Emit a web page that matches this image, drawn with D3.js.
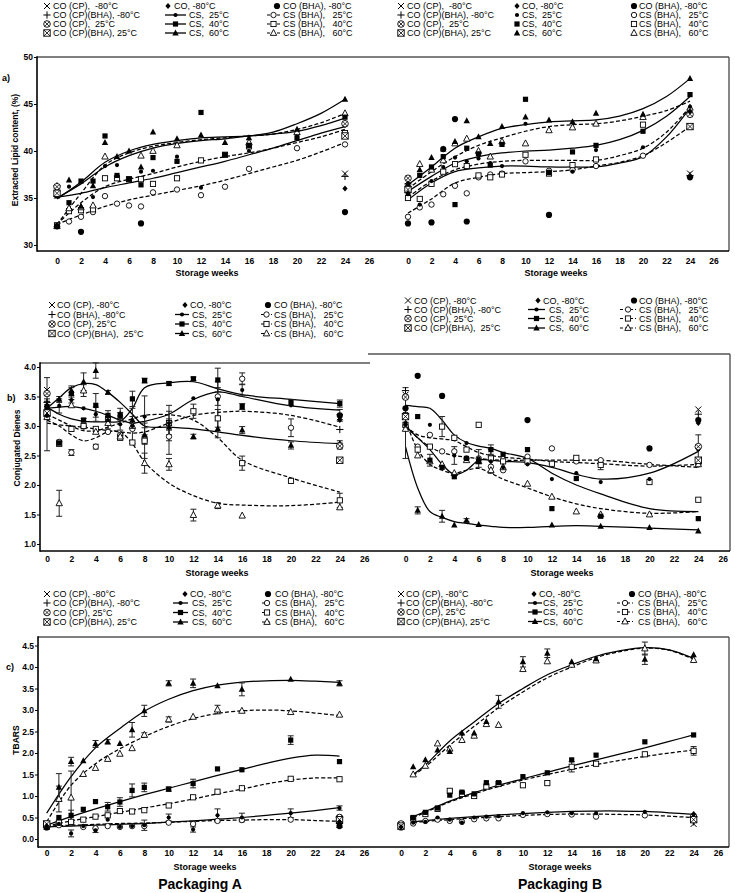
<!DOCTYPE html>
<html><head><meta charset="utf-8">
<script src="https://cdn.jsdelivr.net/npm/d3@7"></script>
<style>body{margin:0;background:#fff}svg{display:block}</style>
</head><body>
<svg id="c" width="735" height="893"></svg>
<script>
// ---------------- DATA ----------------
const weeks = [0,1,2,3,4,5,6,7,8,10,12,14,16,20,24];
const fitWeeks = [0,2,4,6,8,10,12,14,16,18,20,22,24];
const fitWeeksCB = [1,2,4,6,8,10,12,14,16,18,20,22,24];
const coWeeks = [0,24];
const xTicks = [0,2,4,6,8,10,12,14,16,18,20,22,24,26];
const yTicksLipid = [30,35,40,45,50];
const yTicksCD = [1.0,1.5,2.0,2.5,3.0,3.5,4.0];
const yTicksTB = [0,0.5,1.0,1.5,2.0,2.5,3.0,3.5,4.0,4.5];
const panelLetters = ["a)","b)","c)"];
const yTitles = ["Extracted Lipid content, (%)","Conjugated Dienes","TBARS"];
const xTitle = "Storage weeks";
const packTitles = ["Packaging A","Packaging B"];
const legCol1 = ["CO (CP),  -80°C","CO (CP)(BHA), -80°C","CO (CP),  25°C","CO (CP)(BHA), 25°C"];
const legCol1bA = ["CO (CP), -80°C","CO (BHA), -80°C","CO (CP), 25°C","CO (CP)(BHA),  25°C"];
const legCol1bB = ["CO (CP), -80°C","CO (CP)(BHA), -80°C","CO (CP), 25°C","CO (CP)(BHA),  25°C"];
const legCol1c = ["CO (CP), -80°C","CO (CP)(BHA), -80°C","CO (CP), 25°C","CO (CP)(BHA), 25°C"];
const legCol2 = ["CO, -80°C","CS,  25°C","CS,  40°C","CS,  60°C"];
const legCol3 = ["CO (BHA), -80°C","CS (BHA),   25°C","CS (BHA),   40°C","CS (BHA),   60°C"];

// CO controls at weeks 0 and 24: order ×, +, ⊗, ⊠, ◆
// ---- a) Lipid, Packaging A
const aA_cs25  = [35.2,36.2,null,35.1,38.4,38.5,37.0,37.8,37.9,39.4,36.1,null,40.0,41.5,42.7];
const aA_cs40  = [35.4,34.5,36.8,36.8,41.6,37.4,37.0,36.4,39.3,38.9,44.1,39.6,40.6,41.4,43.6];
const aA_cs60  = [35.2,36.9,34.1,36.3,40.9,39.4,40.0,38.3,42.0,41.3,41.7,40.9,41.4,42.3,45.5];
const aA_bha25 = [32.0,32.5,33.0,33.5,35.2,34.4,34.2,34.1,35.6,35.9,35.3,36.2,38.1,40.3,40.7];
const aA_bha40 = [32.1,33.6,33.7,33.8,37.1,37.1,37.0,37.0,36.5,37.1,39.0,39.6,40.5,null,41.9];
const aA_bha60 = [32.0,33.9,34.0,34.2,39.4,null,null,39.5,40.0,40.6,null,null,40.9,42.0,44.0];
const aA_coBHA = [32.0,null,31.4,null,null,null,null,32.3,null,null,null,null,null,null,33.5];
const aA_co0 = [36.0,36.3,36.2,35.5,32.0];
const aA_co24 = [37.6,37.3,42.9,41.6,36.0];
const aA_f_cs25  = [35.1,35.5,36.1,36.6,37.1,37.7,38.3,38.9,39.6,40.3,41.1,41.9,42.6];
const aA_f_cs40  = [35.0,36.5,38.3,39.5,40.3,40.8,41.1,41.3,41.6,41.8,42.1,42.7,43.5];
const aA_f_cs60  = [34.9,36.7,38.8,40.0,40.7,41.1,41.4,41.5,41.6,42.0,42.9,44.0,45.5];
const aA_f_bha25 = [32.2,33.2,34.1,34.8,35.3,35.8,36.3,36.9,37.6,38.3,39.0,39.9,40.9];
const aA_f_bha40 = [32.2,34.5,36.2,37.0,37.6,38.3,38.9,39.4,39.8,40.3,40.9,41.5,42.3];
const aA_f_bha60 = [32.2,35.5,38.5,39.8,40.5,40.9,41.2,41.4,41.6,41.8,42.3,43.0,44.0];
// ---- a) Lipid, Packaging B
const aB_cs25  = [35.4,34.3,36.8,38.3,39.3,38.9,39.2,38.7,38.4,42.9,37.8,37.8,40.1,40.4,44.7];
const aB_cs40  = [35.8,37.4,38.3,39.4,34.3,40.3,39.7,38.5,40.7,45.5,37.7,39.9,40.6,42.1,46.0];
const aB_cs60  = [36.5,38.0,39.3,40.2,41.0,43.2,41.5,40.8,42.6,43.6,43.3,43.1,44.0,43.9,47.7];
const aB_bha25 = [33.0,34.0,34.3,35.4,36.3,35.5,37.2,37.5,37.6,38.9,37.9,38.0,38.4,39.5,42.6];
const aB_bha40 = [35.0,34.9,36.5,37.8,38.6,38.4,37.4,37.2,37.5,39.6,37.6,38.5,39.1,42.8,42.6];
const aB_bha60 = [36.0,38.6,38.0,39.0,40.8,41.3,40.0,39.4,41.0,40.8,42.2,42.5,42.9,43.6,44.6];
const aB_coBHA = [32.3,null,32.4,40.2,43.4,32.5,null,null,null,null,33.2,null,null,null,37.2];
const aB_co0 = [36.8,36.5,37.1,35.9,35.5];
const aB_co24 = [37.6,37.4,43.9,42.6,44.2];
const aB_f_cs25  = [34.8,36.6,37.8,38.2,38.4,38.4,38.3,38.3,38.3,38.7,39.4,41.5,44.6];
const aB_f_cs40  = [35.7,37.3,38.7,39.4,39.8,40.0,40.1,40.3,40.6,41.2,42.2,43.7,45.8];
const aB_f_cs60  = [36.4,38.3,40.3,41.5,42.4,42.8,43.1,43.2,43.3,43.7,44.5,45.8,47.7];
const aB_f_bha25 = [33.4,34.9,36.6,37.2,37.6,37.7,37.8,38.0,38.4,38.8,39.5,40.9,42.6];
const aB_f_bha40 = [35.1,36.8,38.0,38.6,38.9,39.0,39.0,39.0,39.0,39.5,40.3,42.0,44.7];
const aB_f_bha60 = [36.0,37.8,39.4,40.6,41.4,42.1,42.6,42.8,42.9,43.2,43.7,44.3,45.3];
// ---- b) Conjugated dienes, Packaging A
const bA_cs25  = [3.30,3.34,3.44,3.30,3.20,3.10,3.03,3.00,3.16,3.05,3.47,3.45,3.61,3.35,3.18];
const bA_cs40  = [3.33,2.71,3.55,3.10,3.35,3.18,3.18,3.46,3.77,3.72,3.80,3.78,3.33,3.40,3.38];
const bA_cs60  = [3.36,3.45,3.60,3.75,3.94,3.57,3.20,3.10,2.85,2.98,2.82,2.95,2.93,2.67,2.70];
const bA_bha25 = [3.22,2.73,2.55,2.99,2.65,2.90,2.85,2.95,2.77,2.82,null,3.50,3.80,2.97,2.66];
const bA_bha40 = [3.20,2.70,2.95,3.00,2.95,3.12,2.80,2.72,2.75,3.05,3.25,3.13,2.37,2.07,1.74];
const bA_bha60 = [3.15,1.69,3.35,3.60,2.90,3.05,2.82,3.00,2.37,2.35,1.49,1.65,1.48,null,1.62];
const bA_coBHA = [3.25,null,null,null,null,null,null,null,null,null,null,null,null,null,3.18];
const bA_co0 = [3.61,3.40,3.55,3.22,3.18];
const bA_co24 = [3.15,2.94,2.66,2.42,3.10];
const bA_l_cs25  = [3.30,3.32,3.33,3.30,3.25,3.18,3.10,3.05,3.08,3.20,3.45,3.58,3.50,3.34,3.27];
const bA_l_cs40  = [3.32,3.20,3.12,3.08,3.07,3.07,3.08,3.30,3.65,3.73,3.75,3.63,3.53,3.45,3.38];
const bA_l_cs60  = [3.30,3.48,3.65,3.72,3.70,3.57,3.40,3.20,3.00,2.98,2.95,2.90,2.84,2.75,2.70];
const bA_l_bha25 = [3.05,3.02,3.00,2.98,2.95,2.92,2.90,2.88,2.90,3.05,3.18,3.23,3.25,3.18,2.98];
const bA_l_bha40 = [3.20,3.10,3.00,2.92,2.92,2.98,3.05,3.12,3.18,3.19,3.10,2.80,2.42,2.12,1.88];
const bA_l_bha60 = [3.10,3.00,2.85,2.75,2.80,2.90,2.90,2.70,2.39,2.03,1.82,1.69,1.66,1.65,1.71];
const bA_e_cs25  = [0.12,0.12,0.05,null,0.12,null,0.10,0.30,0.35,0.20,null,0.30,0.10,null,0.10];
const bA_e_cs40  = [0.08,0.05,0.10,0.03,0.20,0.08,0.05,0.13,0.04,0.03,0.03,0.20,0.05,0.05,0.06];
const bA_e_cs60  = [0.10,0.05,0.08,0.15,0.13,0.03,0.10,0.06,0.12,0.05,0.04,0.15,0.06,0.06,0.05];
const bA_e_bha25 = [null,null,0.05,null,0.04,null,null,null,0.08,0.30,null,0.15,0.10,0.15,0.05];
const bA_e_bha40 = [0.62,null,null,null,null,null,null,null,0.30,0.30,0.12,0.15,0.12,null,0.12];
const bA_e_bha60 = [null,0.22,null,0.10,null,0.10,null,null,0.17,0.10,0.10,0.05,null,null,null];
// ---- b) Conjugated dienes, Packaging B
const bB_cs25  = [3.05,null,3.02,null,2.50,2.71,2.45,2.40,2.30,2.35,2.10,2.20,2.05,2.10,2.60];
const bB_cs40  = [3.19,3.16,2.42,2.30,2.14,2.45,2.40,2.60,2.52,2.60,1.60,2.11,1.47,null,1.43];
const bB_cs60  = [null,1.57,null,1.47,1.32,1.40,1.33,null,null,null,1.32,null,1.30,1.28,1.22];
const bB_bha25 = [3.00,2.65,2.85,2.57,2.57,2.45,2.45,2.31,2.25,2.48,2.62,2.40,2.42,2.34,2.35];
const bB_bha40 = [3.02,2.60,2.65,2.99,2.80,2.60,3.02,2.45,2.40,2.40,2.36,2.46,2.34,2.05,1.75];
const bB_bha60 = [2.95,2.50,2.40,2.35,2.20,2.42,2.40,2.25,2.30,2.02,1.80,1.55,1.50,1.50,2.35];
const bB_coBHA = [3.30,3.85,null,3.51,null,null,null,null,null,3.10,null,null,null,2.62,3.10];
const bB_co0 = [3.53,3.60,3.49,3.16,3.02];
const bB_co24 = [3.28,3.20,2.65,2.42,3.05];
const bB_l_cs25  = [3.00,2.80,2.60,2.35,2.18,2.25,2.42,2.42,2.40,2.38,2.30,2.18,2.10,2.20,2.57];
const bB_l_cs40  = [3.35,3.33,3.30,3.10,2.85,2.72,2.66,2.62,2.55,2.45,2.20,2.00,1.85,1.60,1.55];
const bB_l_cs60  = [2.65,1.95,1.55,1.45,1.38,1.35,1.32,1.30,1.28,1.28,1.30,1.31,1.30,1.27,1.24];
const bB_l_bha25 = [3.00,2.80,2.65,2.55,2.50,2.47,2.45,2.43,2.42,2.42,2.42,2.42,2.42,2.35,2.30];
const bB_l_bha40 = [3.00,2.85,2.80,2.78,2.75,2.65,2.55,2.50,2.47,2.44,2.40,2.38,2.36,2.32,2.35];
const bB_l_bha60 = [3.10,2.60,2.35,2.25,2.20,2.25,2.28,2.20,2.10,1.95,1.80,1.68,1.60,1.52,1.55];
const bB_e_cs25  = [0.60,null,null,null,0.15,null,0.15,0.20,null,null,null,null,null,null,0.25];
const bB_e_cs40  = [null,null,0.10,null,null,null,null,0.08,null,null,null,null,null,null,null];
const bB_e_cs60  = [null,0.06,null,0.10,null,0.03,null,null,null,null,null,null,null,null,null];
const bB_e_bha40 = [null,null,null,0.17,null,null,null,null,null,null,null,null,0.08,null,null];
// ---- c) TBARS, Packaging A
const cA_cs25  = [0.30,0.35,0.13,0.30,0.20,0.45,0.28,0.30,0.32,0.50,0.22,0.55,0.50,0.60,0.72];
const cA_cs40  = [0.35,0.50,0.55,0.69,0.87,0.75,0.86,1.13,1.20,1.16,1.29,1.63,1.61,2.30,1.80];
const cA_cs60  = [null,1.20,1.80,1.82,2.21,2.26,2.22,2.54,2.98,3.62,3.62,3.56,3.48,3.71,3.62];
const cA_bha25 = [0.28,0.32,0.38,0.28,0.25,0.30,0.28,0.30,0.30,0.38,0.35,0.42,0.44,0.45,0.42];
const cA_bha40 = [0.30,0.38,0.40,0.45,0.52,0.55,0.65,0.64,0.67,0.78,0.97,1.10,1.18,1.40,1.39];
const cA_bha60 = [null,0.93,0.96,1.51,1.65,1.86,1.98,2.11,2.42,2.78,2.84,3.01,2.98,2.95,2.89];
const cA_coBHA = [0.27,null,null,null,null,null,null,null,null,null,null,null,null,null,0.30];
const cA_co0 = [0.28,0.30,0.33,0.35,0.30];
const cA_co24 = [0.33,0.36,0.50,0.45,0.40];
const cA_f_cs25  = [0.28,0.30,0.32,0.34,0.36,0.39,0.42,0.46,0.50,0.55,0.60,0.66,0.73];
const cA_f_cs40  = [0.32,0.52,0.70,0.87,1.03,1.18,1.33,1.48,1.62,1.76,1.88,1.95,1.93];
const cA_f_cs60  = [0.60,1.45,2.12,2.57,2.97,3.25,3.45,3.58,3.65,3.68,3.69,3.67,3.64];
const cA_f_bha25 = [0.30,0.32,0.34,0.36,0.37,0.39,0.41,0.43,0.44,0.45,0.45,0.43,0.41];
const cA_f_bha40 = [0.30,0.42,0.52,0.62,0.72,0.82,0.93,1.05,1.16,1.28,1.37,1.42,1.42];
const cA_f_bha60 = [0.40,1.25,1.75,2.10,2.38,2.62,2.80,2.92,2.98,3.00,2.98,2.93,2.87];
const cA_e_cs25  = [null,null,0.08,null,0.05,null,null,null,0.12,0.08,0.06,0.15,0.10,0.10,0.05];
const cA_e_cs40  = [null,null,0.12,null,null,0.10,0.10,0.15,0.10,0.05,0.10,null,null,0.10,null];
const cA_e_cs60  = [null,0.32,0.10,null,0.08,0.05,null,0.17,0.13,0.06,0.10,null,0.15,null,0.06];
const cA_e_bha60 = [null,0.30,0.62,null,null,null,null,null,0.05,0.06,null,0.10,null,null,null];
// ---- c) TBARS, Packaging B
const cB_cs25  = [null,0.38,0.40,0.50,0.45,0.38,0.50,0.52,0.53,0.60,0.62,0.60,0.60,0.63,0.55];
const cB_cs40  = [null,0.50,0.62,0.72,1.02,1.09,1.05,1.31,1.31,1.45,1.54,1.84,1.95,2.26,2.42];
const cB_cs60  = [null,1.68,1.84,2.07,2.03,2.46,2.46,2.73,3.19,4.12,4.32,4.12,4.19,4.18,4.28];
const cB_bha25 = [null,0.36,0.42,0.45,0.42,0.40,0.46,0.48,0.48,0.56,0.58,0.57,0.52,0.55,0.48];
const cB_bha40 = [null,0.48,0.58,0.70,1.12,1.05,1.00,1.22,1.28,1.25,1.30,1.68,1.75,1.97,2.05];
const cB_bha60 = [null,1.50,1.70,2.22,2.10,2.30,2.40,2.67,2.65,3.95,4.13,4.05,4.15,4.43,4.16];
const cB_coBHA = [0.27,null,null,null,null,null,null,null,null,null,null,null,null,null,0.50];
const cB_co0 = [0.30,0.33,0.35,0.30,0.28];
const cB_co24 = [0.35,0.40,0.52,0.45,0.58];
const cB_f_cs25  = [0.40,0.43,0.48,0.52,0.56,0.59,0.62,0.64,0.65,0.65,0.64,0.61,0.57];
const cB_f_cs40  = [0.52,0.64,0.88,1.08,1.25,1.40,1.55,1.70,1.84,1.98,2.12,2.27,2.42];
const cB_f_cs60  = [1.50,1.72,2.28,2.72,3.15,3.50,3.82,4.05,4.25,4.38,4.45,4.40,4.20];
const cB_f_bha25 = [0.38,0.41,0.45,0.49,0.52,0.55,0.57,0.58,0.58,0.57,0.56,0.53,0.50];
const cB_f_bha40 = [0.50,0.62,0.86,1.05,1.22,1.37,1.50,1.62,1.73,1.83,1.92,2.00,2.07];
const cB_f_bha60 = [1.48,1.68,2.18,2.62,3.05,3.42,3.75,4.00,4.22,4.36,4.44,4.39,4.18];
const cB_e_cs60  = [null,null,null,null,null,null,null,null,0.15,0.12,0.10,null,null,0.12,null];
const cB_e_bha60 = [null,null,null,null,null,null,null,null,null,null,null,null,null,0.15,null];
const cB_e_bha40 = [null,null,null,null,null,null,null,null,null,null,null,0.12,null,null,0.10];

// ---------------- DRAWING ----------------
const FONT = "'Liberation Sans', Arial, Helvetica, sans-serif";
const svg = d3.select('#c');

function sym(g, t, x, y) {
  const st = '#000';
  if (t === 'x') {
    g.append('path').attr('d', `M${x-3},${y-3}L${x+3},${y+3}M${x-3},${y+3}L${x+3},${y-3}`).attr('stroke', st).attr('stroke-width', 1);
  } else if (t === 'plus') {
    g.append('path').attr('d', `M${x-3.6},${y}L${x+3.6},${y}M${x},${y-3.6}L${x},${y+3.6}`).attr('stroke', st).attr('stroke-width', 1);
  } else if (t === 'otimes') {
    g.append('circle').attr('cx', x).attr('cy', y).attr('r', 3.3).attr('fill', '#fff').attr('stroke', st).attr('stroke-width', 0.9);
    g.append('path').attr('d', `M${x-2.3},${y-2.3}L${x+2.3},${y+2.3}M${x-2.3},${y+2.3}L${x+2.3},${y-2.3}`).attr('stroke', st).attr('stroke-width', 0.8);
  } else if (t === 'boxtimes') {
    g.append('rect').attr('x', x-3.2).attr('y', y-3.2).attr('width', 6.4).attr('height', 6.4).attr('fill', '#fff').attr('stroke', st).attr('stroke-width', 0.9);
    g.append('path').attr('d', `M${x-3.2},${y-3.2}L${x+3.2},${y+3.2}M${x-3.2},${y+3.2}L${x+3.2},${y-3.2}`).attr('stroke', st).attr('stroke-width', 0.8);
  } else if (t === 'diamond') {
    g.append('path').attr('d', `M${x},${y-3}L${x+2.6},${y}L${x},${y+3}L${x-2.6},${y}Z`).attr('fill', st);
  } else if (t === 'bigdot') {
    g.append('circle').attr('cx', x).attr('cy', y).attr('r', 3.1).attr('fill', st);
  } else if (t === 'dot') {
    g.append('circle').attr('cx', x).attr('cy', y).attr('r', 2.1).attr('fill', st);
  } else if (t === 'sq') {
    g.append('rect').attr('x', x-2.6).attr('y', y-2.6).attr('width', 5.2).attr('height', 5.2).attr('fill', st);
  } else if (t === 'tri') {
    g.append('path').attr('d', `M${x},${y-3.6}L${x+3.2},${y+2.4}L${x-3.2},${y+2.4}Z`).attr('fill', st);
  } else if (t === 'ocirc') {
    g.append('circle').attr('cx', x).attr('cy', y).attr('r', 2.7).attr('fill', '#fff').attr('stroke', st).attr('stroke-width', 0.9);
  } else if (t === 'osq') {
    g.append('rect').attr('x', x-2.6).attr('y', y-2.6).attr('width', 5.2).attr('height', 5.2).attr('fill', '#fff').attr('stroke', st).attr('stroke-width', 0.9);
  } else if (t === 'otri') {
    g.append('path').attr('d', `M${x},${y-3.6}L${x+3.2},${y+2.4}L${x-3.2},${y+2.4}Z`).attr('fill', '#fff').attr('stroke', st).attr('stroke-width', 0.9);
  }
}

const coSyms = ['x','plus','otimes','boxtimes','diamond'];

function drawData(g, xs, ys, d) {
  // lines
  d.lines.forEach(L => {
    const gen = d3.line().defined(p => p[1] != null).x(p => xs(p[0])).y(p => ys(p[1])).curve(d.curve);
    g.append('path').attr('d', gen(L.wk.map((w, i) => [w, L.v[i]])))
      .attr('fill', 'none').attr('stroke', '#000').attr('stroke-width', 1.25)
      .attr('stroke-dasharray', L.dash ? '4,2.2' : null);
  });
  // error bars
  d.pts.forEach(P => {
    if (!P.e) return;
    weeks.forEach((w, i) => {
      if (P.v[i] == null || P.e[i] == null) return;
      const x = xs(w), y0 = ys(P.v[i] - P.e[i]), y1 = ys(P.v[i] + P.e[i]);
      g.append('path').attr('d', `M${x},${y0}L${x},${y1}M${x-3},${y0}L${x+3},${y0}M${x-3},${y1}L${x+3},${y1}`)
        .attr('stroke', '#222').attr('stroke-width', 1).attr('fill', 'none');
    });
  });
  // markers
  d.pts.forEach(P => {
    weeks.forEach((w, i) => { if (P.v[i] != null) sym(g, P.s, xs(w), ys(P.v[i])); });
  });
  weeks.forEach((w, i) => { if (d.coBHA[i] != null) sym(g, 'bigdot', xs(w), ys(d.coBHA[i])); });
  [d.co0, d.co24].forEach((arr, k) => {
    arr.forEach((v, j) => sym(g, coSyms[j], xs(coWeeks[k]), ys(v)));
  });
}

function mkPts(cs25, cs40, cs60, bha25, bha40, bha60, errs) {
  errs = errs || {};
  return [
    {v: bha25, s: 'ocirc', e: errs.bha25}, {v: bha40, s: 'osq', e: errs.bha40}, {v: bha60, s: 'otri', e: errs.bha60},
    {v: cs25, s: 'dot', e: errs.cs25}, {v: cs40, s: 'sq', e: errs.cs40}, {v: cs60, s: 'tri', e: errs.cs60}
  ];
}
function mkLines(wk, cs25, cs40, cs60, bha25, bha40, bha60) {
  return [
    {wk, v: cs25}, {wk, v: cs40}, {wk, v: cs60},
    {wk, v: bha25, dash: true}, {wk, v: bha40, dash: true}, {wk, v: bha60, dash: true}
  ];
}

function txt(x, y, s, o) {
  o = o || {};
  const t = svg.append('text').attr('x', x).attr('y', y).text(s)
    .attr('font-family', FONT).attr('font-size', o.size || 9)
    .attr('font-weight', o.bold ? 'bold' : 'normal')
    .attr('text-anchor', o.anchor || 'start').attr('fill', '#000')
    .style('white-space', 'pre');
  if (o.rot) t.attr('transform', `rotate(-90,${x},${y})`);
  return t;
}

function legend(L) {
  const g = svg.append('g');
  L.rows.forEach((ry, r) => {
    const by = ry + 3.2;
    // col1
    sym(g, coSyms[r], L.c1[0], ry);
    txt(L.c1[1], by, L.t1[r]);
    // col2
    if (r === 0) { sym(g, 'diamond', L.c2.s1, ry); txt(L.c2.t1, by, legCol2[0]); }
    else {
      if (L.lines) g.append('line').attr('x1', L.c2.l0).attr('x2', L.c2.l1).attr('y1', ry).attr('y2', ry).attr('stroke', '#000').attr('stroke-width', 1.3);
      sym(g, ['dot','sq','tri'][r-1], L.c2.s2, ry);
      txt(L.c2.t2, by, legCol2[r]);
    }
    // col3
    if (r === 0) { sym(g, 'bigdot', L.c3.s1, ry); txt(L.c3.t1, by, legCol3[0]); }
    else {
      if (L.lines) g.append('line').attr('x1', L.c3.l0).attr('x2', L.c3.l1).attr('y1', ry).attr('y2', ry).attr('stroke', '#000').attr('stroke-width', 1.2).attr('stroke-dasharray', '3,2');
      sym(g, ['ocirc','osq','otri'][r-1], L.c3.s2, ry);
      txt(L.c3.t2, by, legCol3[r]);
    }
  });
}

function xAxis(xs, y) {
  const g = svg.append('g').attr('transform', `translate(0,${y})`)
    .call(d3.axisBottom(xs).tickValues(xTicks).tickSize(0).tickPadding(0).tickFormat(d3.format('d')));
  g.select('.domain').remove();
  g.selectAll('text').attr('font-family', FONT).attr('font-size', 8.5).attr('font-weight', 'bold').attr('fill', '#000').attr('dy', 0).attr('y', 0);
}
function yAxis(ys, x, vals, fmt) {
  const g = svg.append('g').attr('transform', `translate(${x},0)`)
    .call(d3.axisLeft(ys).tickValues(vals).tickSize(3).tickPadding(1).tickFormat(d3.format(fmt)));
  g.select('.domain').remove();
  g.selectAll('line').attr('stroke', '#000').attr('stroke-width', 1);
  g.selectAll('text').attr('font-family', FONT).attr('font-size', 8.5).attr('font-weight', 'bold').attr('fill', '#000');
}
function seg(x1, y1, x2, y2, c, w) {
  svg.append('line').attr('x1', x1).attr('y1', y1).attr('x2', x2).attr('y2', y2).attr('stroke', c).attr('stroke-width', w || 1.5);
}

// ---------- Panel a ----------
{
  const ys = d3.scaleLinear().domain([30, 50]).range([245, 57]);
  const xA = d3.scaleLinear().domain([0, 26]).range([57, 369]);
  const xB = d3.scaleLinear().domain([0, 26]).range([408, 713.5]);
  seg(37, 57, 729, 57, '#555', 1.4); seg(729, 57, 729, 251, '#555', 1.4);
  seg(37, 56.3, 37, 251.7, '#000', 1.6); seg(37, 251, 729, 251, '#000', 1.6);
  yAxis(ys, 37, yTicksLipid, 'd');
  xAxis(xA, 264); xAxis(xB, 264);
  txt(207, 276, xTitle, {bold: true, anchor: 'middle'});
  txt(556, 276, xTitle, {bold: true, anchor: 'middle'});
  txt(15, 150, yTitles[0], {bold: true, anchor: 'middle', rot: true, size: 8.5}).attr('dy', '0.35em');
  txt(2, 81, panelLetters[0], {bold: true});
  const g = svg.append('g');
  drawData(g, xA, ys, {curve: d3.curveCatmullRom,
    lines: mkLines(fitWeeks, aA_f_cs25, aA_f_cs40, aA_f_cs60, aA_f_bha25, aA_f_bha40, aA_f_bha60),
    pts: mkPts(aA_cs25, aA_cs40, aA_cs60, aA_bha25, aA_bha40, aA_bha60), coBHA: aA_coBHA, co0: aA_co0, co24: aA_co24});
  drawData(g, xB, ys, {curve: d3.curveCatmullRom,
    lines: mkLines(fitWeeks, aB_f_cs25, aB_f_cs40, aB_f_cs60, aB_f_bha25, aB_f_bha40, aB_f_bha60),
    pts: mkPts(aB_cs25, aB_cs40, aB_cs60, aB_bha25, aB_bha40, aB_bha60), coBHA: aB_coBHA, co0: aB_co0, co24: aB_co24});
  legend({rows: [6, 15, 24, 33], c1: [47, 53], t1: legCol1, lines: true,
    c2: {s1: 168, t1: 174, l0: 165, l1: 186, s2: 175.5, t2: 189},
    c3: {s1: 277, t1: 283, l0: 267, l1: 280, s2: 273.5, t2: 283}});
  legend({rows: [6, 15, 24, 33], c1: [401, 407], t1: legCol1, lines: false,
    c2: {s1: 517, t1: 522, s2: 517, t2: 522},
    c3: {s1: 634, t1: 639, s2: 634, t2: 639}});
}

// ---------- Panel b ----------
{
  const ys = d3.scaleLinear().domain([1, 4]).range([544, 367]);
  const xA = d3.scaleLinear().domain([0, 26]).range([47, 364.2]);
  const xB = d3.scaleLinear().domain([0, 26]).range([405.5, 722.7]);
  seg(40, 363, 370, 363, '#555', 1.4);
  seg(368, 354, 730, 354, '#555', 1.4); seg(730, 354, 730, 551, '#555', 1.4);
  seg(40, 362.3, 40, 551.7, '#000', 1.6); seg(40, 551, 730, 551, '#000', 1.6);
  yAxis(ys, 40, yTicksCD, '.1f');
  xAxis(xA, 562); xAxis(xB, 562);
  txt(217, 576, xTitle, {bold: true, anchor: 'middle'});
  txt(562, 576, xTitle, {bold: true, anchor: 'middle'});
  txt(17, 448, yTitles[1], {bold: true, anchor: 'middle', rot: true, size: 8.5}).attr('dy', '0.35em');
  txt(7, 401, panelLetters[1], {bold: true});
  const g = svg.append('g');
  drawData(g, xA, ys, {curve: d3.curveCatmullRom,
    lines: mkLines(weeks, bA_l_cs25, bA_l_cs40, bA_l_cs60, bA_l_bha25, bA_l_bha40, bA_l_bha60),
    pts: mkPts(bA_cs25, bA_cs40, bA_cs60, bA_bha25, bA_bha40, bA_bha60,
      {cs25: bA_e_cs25, cs40: bA_e_cs40, cs60: bA_e_cs60, bha25: bA_e_bha25, bha40: bA_e_bha40, bha60: bA_e_bha60}),
    coBHA: bA_coBHA, co0: bA_co0, co24: bA_co24});
  drawData(g, xB, ys, {curve: d3.curveCatmullRom,
    lines: mkLines(weeks, bB_l_cs25, bB_l_cs40, bB_l_cs60, bB_l_bha25, bB_l_bha40, bB_l_bha60),
    pts: mkPts(bB_cs25, bB_cs40, bB_cs60, bB_bha25, bB_bha40, bB_bha60,
      {cs25: bB_e_cs25, cs40: bB_e_cs40, cs60: bB_e_cs60, bha40: bB_e_bha40}),
    coBHA: bB_coBHA, co0: bB_co0, co24: bB_co24});
  legend({rows: [305, 314.5, 324, 333.5], c1: [52, 57], t1: legCol1bA, lines: true,
    c2: {s1: 185, t1: 190, l0: 175, l1: 189, s2: 182, t2: 192},
    c3: {s1: 268, t1: 274, l0: 261, l1: 272, s2: 266.5, t2: 274}});
  legend({rows: [300.5, 309.5, 318.5, 328], c1: [408, 414], t1: legCol1bB, lines: true,
    c2: {s1: 538, t1: 543, l0: 528, l1: 545, s2: 536.5, t2: 549},
    c3: {s1: 634, t1: 639, l0: 620, l1: 636, s2: 628, t2: 639}});
}

// ---------- Panel c ----------
{
  const ys = d3.scaleLinear().domain([0, 4.5]).range([839, 645.5]);
  const xA = d3.scaleLinear().domain([0, 26]).range([46.7, 363.9]);
  const xB = d3.scaleLinear().domain([0, 26]).range([401, 718]);
  seg(38, 637, 729, 637, '#555', 1.4); seg(729, 637, 729, 847, '#555', 1.4);
  seg(38, 636.3, 38, 847.7, '#000', 1.6); seg(38, 847, 729, 847, '#000', 1.6);
  yAxis(ys, 38, yTicksTB, '.1f');
  xAxis(xA, 856); xAxis(xB, 856);
  txt(205, 870, xTitle, {bold: true, anchor: 'middle'});
  txt(560, 870, xTitle, {bold: true, anchor: 'middle'});
  txt(16, 740, yTitles[2], {bold: true, anchor: 'middle', rot: true, size: 8.5}).attr('dy', '0.35em');
  txt(6, 670, panelLetters[2], {bold: true});
  txt(200, 889, packTitles[0], {bold: true, anchor: 'middle', size: 14});
  txt(560, 889, packTitles[1], {bold: true, anchor: 'middle', size: 14});
  const g = svg.append('g');
  drawData(g, xA, ys, {curve: d3.curveCatmullRom,
    lines: mkLines(fitWeeks, cA_f_cs25, cA_f_cs40, cA_f_cs60, cA_f_bha25, cA_f_bha40, cA_f_bha60),
    pts: mkPts(cA_cs25, cA_cs40, cA_cs60, cA_bha25, cA_bha40, cA_bha60,
      {cs25: cA_e_cs25, cs40: cA_e_cs40, cs60: cA_e_cs60, bha60: cA_e_bha60}),
    coBHA: cA_coBHA, co0: cA_co0, co24: cA_co24});
  drawData(g, xB, ys, {curve: d3.curveCatmullRom,
    lines: mkLines(fitWeeksCB, cB_f_cs25, cB_f_cs40, cB_f_cs60, cB_f_bha25, cB_f_bha40, cB_f_bha60),
    pts: mkPts(cB_cs25, cB_cs40, cB_cs60, cB_bha25, cB_bha40, cB_bha60,
      {cs60: cB_e_cs60, bha60: cB_e_bha60, bha40: cB_e_bha40}),
    coBHA: cB_coBHA, co0: cB_co0, co24: cB_co24});
  legend({rows: [594, 603, 612.5, 622], c1: [47, 53], t1: legCol1c, lines: true,
    c2: {s1: 185, t1: 190, l0: 173, l1: 188, s2: 180.5, t2: 192},
    c3: {s1: 268, t1: 275, l0: 262, l1: 272, s2: 267, t2: 275}});
  legend({rows: [594, 603, 612, 621.5], c1: [401, 406], t1: legCol1c, lines: true,
    c2: {s1: 534, t1: 539, l0: 528, l1: 542, s2: 535, t2: 543},
    c3: {s1: 632, t1: 638, l0: 617, l1: 633, s2: 625, t2: 638}});
}
</script>
</body></html>
